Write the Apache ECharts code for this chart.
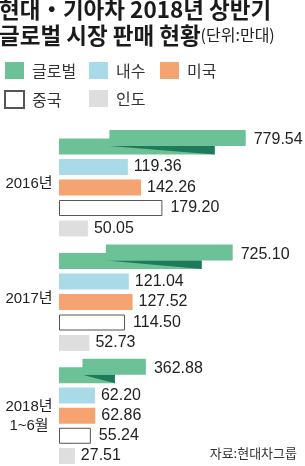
<!DOCTYPE html>
<html>
<head>
<meta charset="utf-8">
<script src="https://cdn.jsdelivr.net/npm/echarts@6/dist/echarts.min.js"></script>
<style>
html,body{margin:0;padding:0;background:#fff;}
#c{width:305px;height:466px;}
</style>
</head>
<body>
<div id="c"></div>
<script>
// ---- data ----
const years = ['2016년', '2017년', '2018년\n1~6월'];
const rows = ['글로벌', '내수', '미국', '중국', '인도'];
const globalSales = [779.54, 725.10, 362.88];
const domestic = [119.36, 121.04, 62.20];
const usa = [142.26, 127.52, 62.86];
const china = [179.20, 114.50, 55.24];
const india = [50.05, 52.73, 27.51];
const titleLine1 = '현대・기아차 2018년 상반기';
const titleLine2 = '글로벌 시장 판매 현황';
const unitText = '(단위:만대)';
const sourceText = '자료:현대차그룹';

// ---- style / layout ----
const C = {
  green: '#6dc196', dark: '#1f7a5b', blue: '#a9dae7',
  orange: '#f5a471', white: '#ffffff', gray: '#dedede', border: '#555555'
};
const FONT = "'Liberation Sans', 'Noto Sans CJK KR', sans-serif";
const KFONT = "'Noto Sans CJK KR', sans-serif";
const gridLeft = 59, gridWidth = 240, firstTop = 136.25, groupStep = 114.5, rowH = 20.5;
const gridH = rowH * rows.length;

const chart = echarts.init(document.getElementById('c'), null, {renderer: 'canvas'});

const grids = [], xAxes = [], yAxes = [], series = [], graphics = [];

const labelStyle = (dist) => ({
  show: true, position: 'right', distance: dist,
  color: '#222', fontSize: 16, fontFamily: FONT,
  formatter: p => Number(p.value[0]).toFixed(2)
});

const barDefs = [
  {name: rows[1], data: domestic, row: 1, style: {color: C.blue}, dist: 6},
  {name: rows[2], data: usa, row: 2, style: {color: C.orange}, dist: 6},
  {name: rows[3], data: china, row: 3, style: {color: C.white, borderColor: C.border, borderWidth: 1}, dist: 8},
  {name: rows[4], data: india, row: 4, style: {color: C.gray}, dist: 6}
];

years.forEach((yr, g) => {
  const top = firstTop + groupStep * g;
  grids.push({left: gridLeft, top: top, width: gridWidth, height: gridH});
  xAxes.push({gridIndex: g, type: 'value', min: 0, max: 416, show: false});
  xAxes.push({gridIndex: g, type: 'value', min: 0, max: 1002, show: false});
  yAxes.push({gridIndex: g, type: 'category', data: rows, inverse: true, show: false});

  // global ribbon bar (custom, folded)
  series.push({
    type: 'custom', name: rows[0], xAxisIndex: 2 * g + 1, yAxisIndex: g,
    itemStyle: {color: C.green},
    encode: {x: 0, y: 1},
    data: [[globalSales[g], 0]],
    renderItem: (params, api) => {
      const v = api.value(0);
      const end = api.coord([v, api.value(1)]);
      const start = api.coord([0, api.value(1)]);
      const c = end[1], x0 = start[0], x1 = end[0];
      const len = x1 - x0;
      const upStart = x0 + len * 0.27;
      const lowEnd = x1 - 31;
      return {
        type: 'group',
        children: [
          {type: 'rect', shape: {x: x0, y: c - 8, width: lowEnd - x0, height: 16}, style: {fill: C.green}},
          {type: 'polygon', shape: {points: [[upStart, c - 0.5], [lowEnd, c - 0.5], [lowEnd, c + 8]]}, style: {fill: C.dark}},
          {type: 'rect', shape: {x: upStart, y: c - 16.5, width: x1 - upStart, height: 16}, style: {fill: C.green}},
          {type: 'text', x: x1 + 8, y: c - 6.5, style: {
            text: v.toFixed(2), fill: '#222', fontSize: 16, fontFamily: FONT,
            textAlign: 'left', textVerticalAlign: 'middle'}}
        ]
      };
    }
  });

  barDefs.forEach(d => {
    series.push({
      type: 'bar', name: d.name, xAxisIndex: 2 * g, yAxisIndex: g,
      barWidth: 16, barGap: '-100%',
      itemStyle: d.style,
      label: labelStyle(d.dist),
      data: [[d.data[g], d.row]]
    });
  });

  const lines = yr.split('\n').length;
  graphics.push({
    type: 'text', x: 29,
    y: top + gridH / 2 - (lines === 1 ? 3.5 : 0),
    style: {
      text: yr, fill: '#222', fontSize: 15, fontFamily: FONT,
      textAlign: 'center', textVerticalAlign: 'middle', lineHeight: 19
    }
  });
});

graphics.push({
  type: 'text', x: 297, y: 453,
  style: {text: sourceText, fill: '#333', fontSize: 13, fontFamily: KFONT,
    textAlign: 'right', textVerticalAlign: 'middle'}
});

const legendBase = {
  orient: 'vertical', itemWidth: 19, itemHeight: 17, itemGap: 11, icon: 'rect',
  selectedMode: false, padding: 0,
  textStyle: {fontSize: 16, fontFamily: KFONT, color: '#333', lineHeight: 17, padding: [0, 0, 0, 3]}
};

chart.setOption({
  animation: false,
  title: {
    left: -1, top: -4, padding: 0,
    text: '{a|' + titleLine1 + '}\n{a|' + titleLine2 + '}{b|' + unitText + '}',
    textStyle: {
      rich: {
        a: {fontSize: 22.5, fontWeight: 'bold', lineHeight: 26, fontFamily: KFONT, color: '#1a1a1a'},
        b: {fontSize: 16, fontWeight: 'normal', lineHeight: 26, fontFamily: KFONT, color: '#222', verticalAlign: 'middle'}
      }
    }
  },
  legend: [
    Object.assign({}, legendBase, {left: 4, top: 62, data: [rows[0], rows[3]]}),
    Object.assign({}, legendBase, {left: 89, top: 62, data: [rows[1], rows[4]]}),
    Object.assign({}, legendBase, {left: 160, top: 62, data: [rows[2]]})
  ],
  grid: grids,
  xAxis: xAxes,
  yAxis: yAxes,
  series: series,
  graphic: graphics
});
</script>
</body>
</html>
